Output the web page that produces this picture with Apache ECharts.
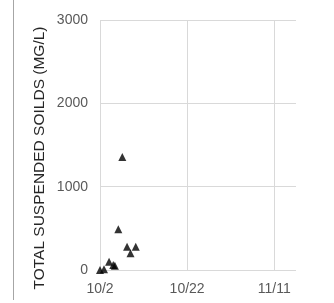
<!DOCTYPE html>
<html>
<head>
<meta charset="utf-8">
<script src="https://cdn.jsdelivr.net/npm/echarts@6/dist/echarts.min.js"></script>
<style>html,body{margin:0;padding:0;background:#fff}#c{width:334px;height:303px}</style>
</head>
<body>
<div id="c"></div>
<script>
// Sample times (UTC) and Total Suspended Solids values (mg/L)
const sampleTimes = ['2018-10-02T00:00Z','2018-10-02T22:00Z','2018-10-04T02:00Z','2018-10-05T01:00Z','2018-10-05T10:00Z','2018-10-06T05:00Z','2018-10-07T03:00Z','2018-10-08T05:00Z','2018-10-09T00:00Z','2018-10-10T05:00Z'];
const tssValues = [0, 10, 100, 60, 50, 490, 1355, 280, 200, 280];
const axisStartDate = '2018-10-02T00:00Z';
const xAxisDays = [0, 45];      // axis extent in days from start
const xTickDays = 20;
const yTicks = [0, 1000, 2000, 3000];
const yTitle = 'TOTAL SUSPENDED SOILDS (MG/L)';

const DAY = 86400000;
const base = Date.parse(axisStartDate);
const data = sampleTimes.map((t, i) => [(Date.parse(t) - base) / DAY, tssValues[i]]);
const fmt = v => { const d = new Date(base + v * DAY); return (d.getUTCMonth() + 1) + '/' + d.getUTCDate(); };

const chart = echarts.init(document.getElementById('c'), null, {renderer: 'canvas'});
chart.setOption({
  animation: false,
  textStyle: {fontFamily: 'Liberation Sans, Arial, sans-serif'},
  grid: {left: 100, right: 38, top: 20, bottom: 33, containLabel: false},
  xAxis: {
    type: 'value', min: xAxisDays[0], max: xAxisDays[1], interval: xTickDays,
    axisLine: {show: false}, axisTick: {show: false},
    axisLabel: {formatter: fmt, color: '#595959', fontSize: 14, margin: 12, showMaxLabel: false},
    splitLine: {show: true, showMaxLine: false, lineStyle: {color: '#d9d9d9', width: 1}}
  },
  yAxis: {
    type: 'value', min: yTicks[0], max: yTicks[yTicks.length - 1], interval: yTicks[1] - yTicks[0],
    axisLine: {show: false}, axisTick: {show: false},
    axisLabel: {color: '#595959', fontSize: 14, margin: 12, formatter: v => String(v)},
    splitLine: {show: true, lineStyle: {color: '#d9d9d9', width: 1}}
  },
  graphic: [{
    type: 'line', shape: {x1: 13.5, y1: 0, x2: 13.5, y2: 300},
    style: {stroke: '#a6a6a6', lineWidth: 1}
  }, {
    type: 'text', x: 40, y: 158, rotation: Math.PI / 2,
    style: {text: yTitle, fill: '#262626', font: '15.5px Liberation Sans, Arial, sans-serif', align: 'center', verticalAlign: 'middle'}
  }],
  series: [{
    type: 'scatter', data: data, symbol: 'triangle', symbolSize: 8,
    itemStyle: {color: '#000'}
  }]
});
</script>
</body>
</html>
